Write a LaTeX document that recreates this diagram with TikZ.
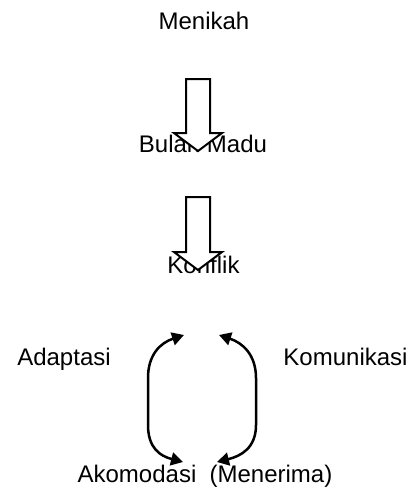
\documentclass[tikz,border=0pt]{standalone}
\usepackage{fontspec}
\setmainfont{Liberation Sans}
\usetikzlibrary{arrows.meta}

\begin{document}
\begin{tikzpicture}[%
      x=1pt, y=-1pt,
      word/.style={font=\fontsize{24}{28}\selectfont, anchor=base, inner sep=0pt},
      blockarrow/.style={draw=black, fill=white, line width=2pt, line join=miter},
      cyclearrow/.style={line width=2.5pt,
        {Triangle[length=12pt,width=13pt]}-{Triangle[length=12pt,width=13pt]}},
      ]
      \useasboundingbox (0,0) rectangle (416,490);

      \node[word] (menikah) at (204,29) {Menikah};
      \node[word] (bulanmadu) at (203,152) {Bulan Madu};
      \node[word] (konflik) at (203.5,273) {Konflik};
      \node[word] (adaptasi) at (64,365) {Adaptasi};
      \node[word] (komunikasi) at (345.5,365) {Komunikasi};
      \node[word] (akomodasi) at (205,482) {Akomodasi\ \ (Menerima)};

      % block arrows, drawn over the text
      \draw[blockarrow] (186,79) -- (210,79) -- (210,133) -- (222,133)
            -- (198,151) -- (174,133) -- (186,133) -- cycle;
      \draw[blockarrow] (186,197) -- (210,197) -- (210,252) -- (222,252)
            -- (198,270) -- (174,252) -- (186,252) -- cycle;

      % cycle arrows
      \coordinate (adaptasiTop) at (184,335);
      \coordinate (adaptasiBottom) at (183,462);
      \coordinate (komunikasiTop) at (219,335);
      \coordinate (komunikasiBottom) at (217,462);

      \draw[cyclearrow] (adaptasiTop) .. controls (160,343) and (148,355) .. (148,378)
            -- (148,425) .. controls (148,448) and (160,456) .. (adaptasiBottom);
      \draw[cyclearrow] (komunikasiTop) .. controls (243,343) and (256,355) .. (256,378)
            -- (256,425) .. controls (256,448) and (241,456) .. (komunikasiBottom);
\end{tikzpicture}
\end{document}
